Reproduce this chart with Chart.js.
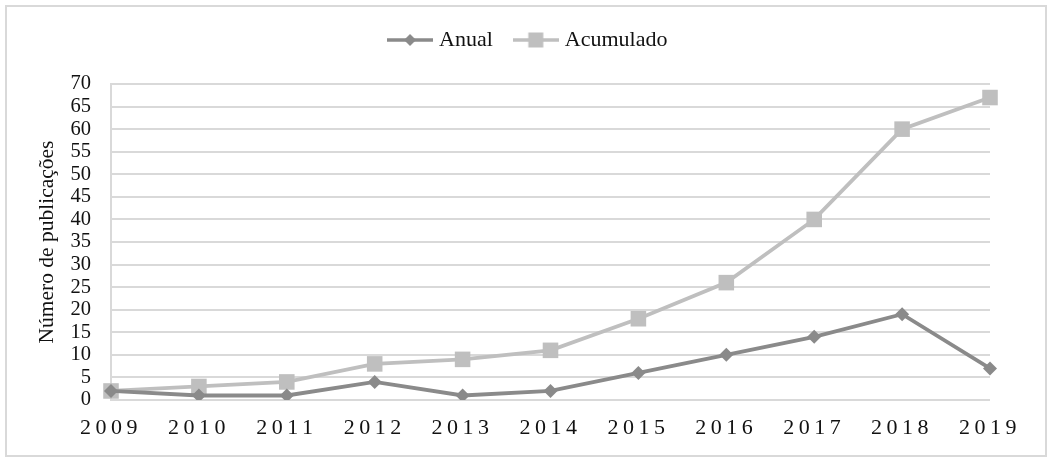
<!DOCTYPE html>
<html>
<head>
<meta charset="utf-8">
<script src="https://cdn.jsdelivr.net/npm/chart.js@4"></script>
<style>
  html, body { margin: 0; padding: 0; background: #fff; }
  #wrap { position: relative; width: 1054px; height: 465px; }
</style>
</head>
<body>
<div id="wrap"><canvas id="chart"></canvas></div>
<script>
const years = ['2009', '2010', '2011', '2012', '2013', '2014', '2015', '2016', '2017', '2018', '2019'];
const anual = [2, 1, 1, 4, 1, 2, 6, 10, 14, 19, 7];
const acumulado = [2, 3, 4, 8, 9, 11, 18, 26, 40, 60, 67];
const yTicks = [0, 5, 10, 15, 20, 25, 30, 35, 40, 45, 50, 55, 60, 65, 70];

const darkGray = '#8a8a8a';
const lightGray = '#bfbfbf';
const serif = "'Liberation Serif', 'Times New Roman', serif";

// legend marker: short line with the point shape in the middle
function legendIcon(color, shape) {
    const c = document.createElement('canvas');
    c.width = 46; c.height = 16;
    const g = c.getContext('2d');
    g.strokeStyle = color;
    g.fillStyle = color;
    g.lineWidth = 3.5;
    g.beginPath(); g.moveTo(0, 8); g.lineTo(46, 8); g.stroke();
    g.beginPath();
    if (shape === 'diamond') {
        g.moveTo(23, 2); g.lineTo(29, 8); g.lineTo(23, 14); g.lineTo(17, 8);
    } else {
        g.rect(15.5, 0.5, 15, 15);
    }
    g.fill();
    return c;
}
const icons = [legendIcon(darkGray, 'diamond'), legendIcon(lightGray, 'square')];

const borderPlugin = {
    id: 'frame',
    beforeDraw(chart) {
        const ctx = chart.ctx;
        ctx.save();
        ctx.strokeStyle = '#d9d9d9';
        ctx.lineWidth = 2;
        ctx.strokeRect(6, 6, 1040, 450);
        ctx.restore();
    },
    // x labels are drawn after the datasets (ticks.z = 1), spaced out like the original
    afterDatasetsDraw(chart) {
        chart.ctx.letterSpacing = '4.5px';
    },
    afterDraw(chart) {
        chart.ctx.letterSpacing = '0px';
    }
};

new Chart(document.getElementById('chart'), {
    type: 'line',
    data: {
        labels: years,
        datasets: [
            {
                label: 'Anual',
                data: anual,
                borderColor: darkGray,
                backgroundColor: darkGray,
                borderWidth: 3.8,
                pointStyle: 'rectRot',
                pointRadius: 7,
                pointBorderWidth: 0,
                tension: 0
            },
            {
                label: 'Acumulado',
                data: acumulado,
                borderColor: lightGray,
                backgroundColor: lightGray,
                borderWidth: 3.8,
                pointStyle: 'rect',
                pointRadius: 11,
                pointBorderWidth: 0,
                tension: 0
            }
        ]
    },
    options: {
        responsive: true,
        maintainAspectRatio: false,
        animation: false,
        layout: { padding: { top: 4, left: 69.5, right: 64, bottom: 0 } },
        plugins: {
            tooltip: { enabled: false },
            legend: {
                position: 'top',
                labels: {
                    usePointStyle: true,
                    pointStyleWidth: 36,
                    padding: 25,
                    color: '#111',
                    font: { family: serif, size: 22 },
                    generateLabels(chart) {
                        return chart.data.datasets.map((ds, i) => ({
                            text: ds.label,
                            pointStyle: icons[i],
                            fillStyle: ds.borderColor,
                            strokeStyle: ds.borderColor,
                            lineWidth: 0,
                            hidden: false,
                            datasetIndex: i,
                            fontColor: '#111'
                        }));
                    }
                }
            },
            // spacer between legend and plot area
            title: {
                display: true,
                text: '',
                weight: 500,
                padding: 0,
                font: { size: 20, lineHeight: '23px' }
            }
        },
        scales: {
            x: {
                offset: false,
                grid: { display: false, drawTicks: false },
                border: { display: false },
                ticks: {
                    z: 1,
                    color: '#111',
                    padding: 15,
                    maxRotation: 0,
                    autoSkip: false,
                    font: { family: serif, size: 22 }
                },
                afterFit(scale) { scale.height = 65; }
            },
            y: {
                min: 0,
                max: 70,
                afterBuildTicks(scale) { scale.ticks = yTicks.map(v => ({ value: v })); },
                grid: { color: '#d9d9d9', lineWidth: 2, drawTicks: false },
                border: { display: true, color: '#d9d9d9', width: 2 },
                ticks: {
                    color: '#111',
                    padding: 20,
                    autoSkip: false,
                    font: { family: serif, size: 20.5 }
                },
                title: {
                    display: true,
                    text: 'Número de publicações',
                    color: '#111',
                    padding: { top: -35.4, bottom: 0 },
                    font: { family: serif, size: 21.5 }
                },
                afterFit(scale) { scale.width = 41.5; }
            }
        }
    },
    plugins: [borderPlugin]
});
</script>
</body>
</html>
